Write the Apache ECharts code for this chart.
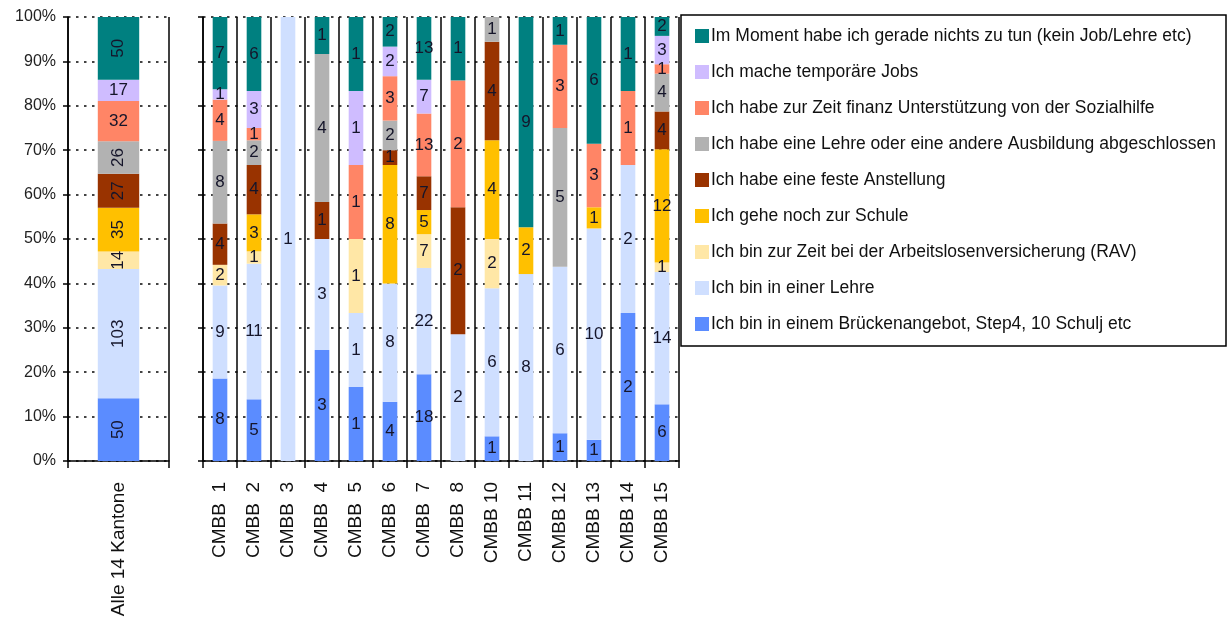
<!DOCTYPE html>
<html>
<head>
<meta charset="utf-8">
<script src="https://cdn.jsdelivr.net/npm/echarts@6/dist/echarts.min.js"></script>
<style>
  html, body { margin: 0; padding: 0; background: #ffffff; }
  #chart { width: 1228px; height: 623px; }
</style>
</head>
<body>
<div id="chart"></div>
<script>
// ---- Data (counts per category; first entry = "Alle 14 Kantone") ----
const categories = ['Alle 14 Kantone', 'CMBB  1', 'CMBB  2', 'CMBB  3', 'CMBB  4', 'CMBB  5', 'CMBB  6', 'CMBB  7', 'CMBB  8', 'CMBB 10', 'CMBB 11', 'CMBB 12', 'CMBB 13', 'CMBB 14', 'CMBB 15'];

const seriesNames = [
  'Ich bin in einem Brückenangebot, Step4, 10 Schulj etc',
  'Ich bin in einer Lehre',
  'Ich bin zur Zeit bei der Arbeitslosenversicherung (RAV)',
  'Ich gehe noch zur Schule',
  'Ich habe eine feste Anstellung',
  'Ich habe eine Lehre oder eine andere Ausbildung abgeschlossen',
  'Ich habe zur Zeit finanz Unterstützung von der Sozialhilfe',
  'Ich mache temporäre Jobs',
  'Im Moment habe ich gerade nichts zu tun (kein Job/Lehre etc)'
];

const brueckenangebot    = [50,  8,  5, 0, 3, 1, 4, 18, 0, 1, 0, 1,  1, 2,  6];
const lehre              = [103, 9, 11, 1, 3, 1, 8, 22, 2, 6, 8, 6, 10, 2, 14];
const arbeitslosenvers   = [14,  2,  1, 0, 0, 1, 0,  7, 0, 2, 0, 0,  0, 0,  1];
const schule             = [35,  0,  3, 0, 0, 0, 8,  5, 0, 4, 2, 0,  1, 0, 12];
const festeAnstellung    = [27,  4,  4, 0, 1, 0, 1,  7, 2, 4, 0, 0,  0, 0,  4];
const lehreAbgeschlossen = [26,  8,  2, 0, 4, 0, 2,  0, 0, 1, 0, 5,  0, 0,  4];
const sozialhilfe        = [32,  4,  1, 0, 0, 1, 3, 13, 2, 0, 0, 3,  3, 1,  1];
const temporaereJobs     = [17,  1,  3, 0, 0, 1, 2,  7, 0, 0, 0, 0,  0, 0,  3];
const nichtsZuTun        = [50,  7,  6, 0, 1, 1, 2, 13, 1, 0, 9, 1,  6, 1,  2];

const yTicks = [0, 10, 20, 30, 40, 50, 60, 70, 80, 90, 100];

// ---- Styling ----
const seriesData = [brueckenangebot, lehre, arbeitslosenvers, schule, festeAnstellung, lehreAbgeschlossen, sozialhilfe, temporaereJobs, nichtsZuTun];
const colors = ['#5b8cff', '#cfdfff', '#ffe7a6', '#ffc000', '#993300', '#b2b2b2', '#ff8566', '#cfbcff', '#008080'];
const firstBarRotate = [90, 90, 90, 90, 90, 90, 0, 0, 90];

const totals = categories.map((c, i) => seriesData.reduce((s, arr) => s + arr[i], 0));

const FONT = 'Liberation Sans';
const labelColor = '#15152a';

const series = [];
seriesData.forEach((arr, k) => {
  const toItem = (i) => ({ value: arr[i] / totals[i] * 100, count: arr[i] });
  const labelFmt = (p) => (p.data.count ? String(p.data.count) : '');
  series.push({
    name: seriesNames[k],
    type: 'bar',
    stack: 'all',
    xAxisIndex: 0,
    yAxisIndex: 0,
    barWidth: '41%',
    itemStyle: { color: colors[k] },
    label: { show: true, position: 'inside', rotate: firstBarRotate[k], formatter: labelFmt, fontFamily: FONT, fontSize: 17, color: labelColor },
    data: [toItem(0)]
  });
  series.push({
    name: seriesNames[k],
    type: 'bar',
    stack: 'cmbb',
    xAxisIndex: 1,
    yAxisIndex: 1,
    barWidth: '43%',
    itemStyle: { color: colors[k] },
    label: { show: true, position: 'inside', formatter: labelFmt, fontFamily: FONT, fontSize: 17, color: labelColor },
    data: categories.slice(1).map((c, j) => toItem(j + 1))
  });
});

const dotted = { show: true, lineStyle: { color: '#444', width: 2, type: [2.5, 5.5] } };
const solidV = { show: true, interval: 0, lineStyle: { color: '#000', width: 1.5, type: 'solid' } };

const chart = echarts.init(document.getElementById('chart'), null, { renderer: 'canvas' });
chart.setOption({
  animation: false,
  backgroundColor: '#ffffff',
  textStyle: { fontFamily: FONT },
  grid: [
    { left: 68, top: 17, width: 101, height: 444 },
    { left: 203, top: 17, width: 476, height: 444 }
  ],
  xAxis: [
    {
      type: 'category', gridIndex: 0, data: categories.slice(0, 1),
      axisLine: { lineStyle: { color: '#000', width: 1.5 } },
      axisTick: { show: true, length: 7, lineStyle: { color: '#000', width: 1.5 } },
      splitLine: solidV,
      axisLabel: { rotate: 90, fontSize: 19, color: '#111', fontFamily: FONT, margin: 21 }
    },
    {
      type: 'category', gridIndex: 1, data: categories.slice(1),
      axisLine: { lineStyle: { color: '#000', width: 1.5 } },
      axisTick: { show: true, interval: 0, length: 7, lineStyle: { color: '#000', width: 1.5 } },
      splitLine: solidV,
      axisLabel: { rotate: 90, interval: 0, fontSize: 19, color: '#111', fontFamily: FONT, margin: 21 }
    }
  ],
  yAxis: [
    {
      type: 'value', gridIndex: 0, min: yTicks[0], max: yTicks[yTicks.length - 1], interval: 10,
      axisLine: { show: true, lineStyle: { color: '#000', width: 1.5 } },
      axisTick: { show: true, length: 5, lineStyle: { color: '#000', width: 1.5 } },
      splitLine: dotted,
      axisLabel: { formatter: '{value}%', fontSize: 16, color: '#222', fontFamily: FONT, margin: 12 }
    },
    {
      type: 'value', gridIndex: 1, min: yTicks[0], max: yTicks[yTicks.length - 1], interval: 10,
      axisLine: { show: true, lineStyle: { color: '#000', width: 1.5 } },
      axisTick: { show: true, length: 5, lineStyle: { color: '#000', width: 1.5 } },
      splitLine: dotted,
      axisLabel: { show: false }
    }
  ],
  legend: {
    orient: 'vertical',
    left: 690,
    top: 22,
    itemGap: 18,
    itemWidth: 14,
    itemHeight: 14,
    icon: 'rect',
    data: seriesNames.slice().reverse(),
    textStyle: { fontSize: 17.5, lineHeight: 17, color: '#111', fontFamily: FONT, padding: [0, 0, 0, -3] }
  },
  graphic: [
    { type: 'rect', shape: { x: 681, y: 15, width: 545, height: 331 }, style: { fill: 'none', stroke: '#000', lineWidth: 1.5 }, silent: true }
  ],
  series: series
});
</script>
</body>
</html>
